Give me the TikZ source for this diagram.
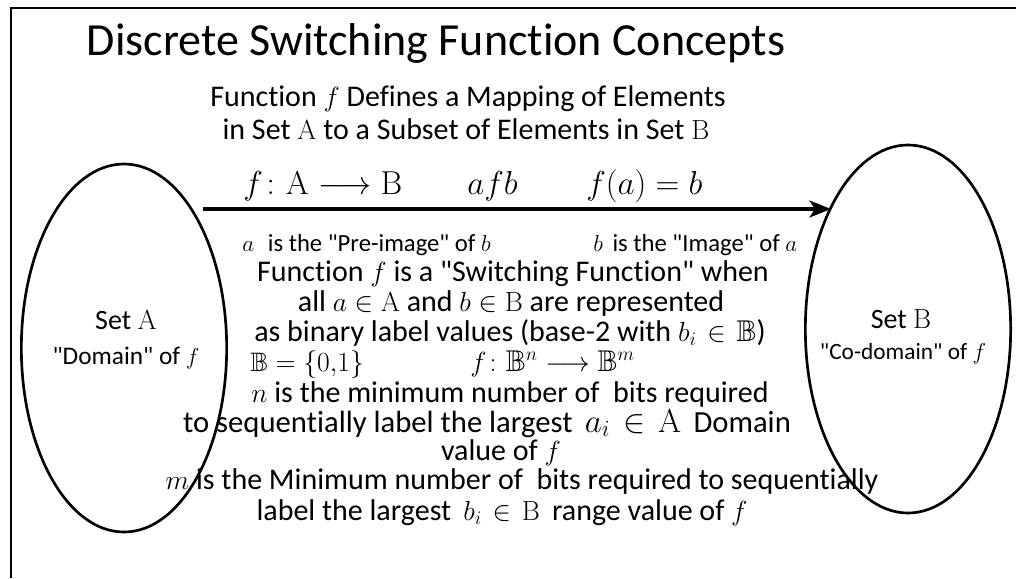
\documentclass[tikz,border=0pt]{standalone}
\usepackage{amsmath,amssymb}
\usepackage[no-math]{fontspec}
\setmainfont{Carlito}[Ligatures={TeXOff,NoCommon}]
\usetikzlibrary{arrows.meta,shapes.geometric}
\newcommand{\dq}{\symbol{34}}
\newcommand{\win}{\mathrel{\mkern2mu\in\mkern2mu}}
\tikzset{
  frameline/.style={line width=2.2pt},
  setell/.style={draw, ellipse, line width=2pt, inner sep=0pt, minimum width=154pt, minimum height=276pt},
  maparrow/.style={line width=3pt, -{Stealth[length=16pt,width=12.5pt,inset=4pt]}},
  ttl/.style={font=\fontsize{34.5}{40}\selectfont, anchor=base, inner sep=0pt},
  body/.style={font=\fontsize{22.5}{26}\selectfont, anchor=base, inner sep=0pt},
  fml/.style={font=\fontsize{23}{26}\selectfont, anchor=base west, inner sep=0pt},
  small/.style={font=\fontsize{18.5}{22}\selectfont, anchor=base west, inner sep=0pt},
  setlab/.style={font=\fontsize{21}{24}\selectfont, anchor=base, inner sep=0pt},
}
\begin{document}
\begin{tikzpicture}[x=0.75pt,y=-0.75pt]
\useasboundingbox (0,0) rectangle (1016,578);
% frame
\coordinate (fbl) at (11,578);
\coordinate (ftl) at (11,8);
\coordinate (ftr) at (1016,8);
\draw[frameline] (fbl) -- (ftl) -- (ftr);
% title
\node[ttl] (title) at (436,55) {Discrete Switching Function Concepts};
% sets
\node[setell] (setA) at (124,348) {};
\node[setell] (setB) at (908,329) {};
\node[setlab] (setAname) at (126,329) {Set $\mathrm{A}$};
\node[font=\fontsize{19}{22}\selectfont, anchor=base, inner sep=0pt] (setAsub) at (126,364) {\dq Domain\dq{} of $f$};
\node[setlab] (setBname) at (901,328) {Set $\mathrm{B}$};
\node[font=\fontsize{17.5}{21}\selectfont, anchor=base, inner sep=0pt] (setBsub) at (903,359) {\dq Co-domain\dq{} of $f$};
% arrow
\coordinate (arrS) at (203,209);
\coordinate (arrE) at (831,209);
\draw[maparrow] (arrS) -- (arrE);
% text
\node[body] (l1) at (468,106) {Function $f$ Defines a Mapping of Elements};
\node[body] (l2) at (466,139) {in Set $\mathrm{A}$ to a Subset of Elements in Set $\mathrm{B}$};
\node[fml] (fm1) at (243,194) {$f\colon \mathrm{A} \longrightarrow \mathrm{B}$};
\node[fml] (fm2) at (467,194) {$afb$};
\node[fml] (fm3) at (586,194) {$f(a) = b$};
\node[small] (pre) at (242,251) {$a$\,\, is the \dq Pre-image\dq{} of $b$};
\node[small] (img) at (593,251) {$b$\, is the \dq Image\dq{} of $a$};
\node[body] (l4) at (513,281) {Function $f$ is a \dq Switching Function\dq{} when};
\node[body] (l5) at (511,311) {all $a \in \mathrm{A}$ and $b \in \mathrm{B}$ are represented};
\node[body] (l6) at (510,341) {as binary label values (base-2 with $b_i \win \mathbb{B}$)};
\node[font=\fontsize{20}{24}\selectfont, anchor=base west, inner sep=0pt] (l7a) at (250,371) {$\mathbb{B} = \{0{,}1\}$};
\node[body, anchor=base west] (l7b) at (470,371) {$f\colon \mathbb{B}^n \longrightarrow \mathbb{B}^m$};
\node[body] (l8) at (510,402) {$n$ is the minimum number of\ \ bits required};
\node[body, font=\fontsize{23}{26}\selectfont] (l9) at (487,432) {to sequentially label the largest\hspace{4pt} $a_i \win \mathrm{A}$\hspace{4pt} Domain};
\node[body] (l10) at (501,460) {value of $f$};
\node[body] (l11) at (522,489) {$m$ is the Minimum number of\ \ bits required to sequentially};
\node[body] (l12) at (502,520) {label the largest\hspace{4pt} $b_i \win \mathrm{B}$\hspace{4pt} range value of $f$};
\end{tikzpicture}
\end{document}
